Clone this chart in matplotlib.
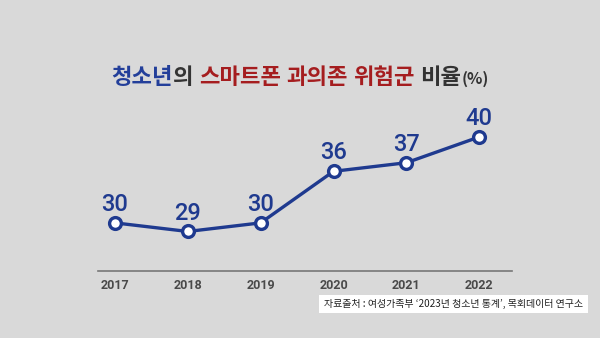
import matplotlib
matplotlib.use("Agg")
import matplotlib.pyplot as plt
from matplotlib.patches import Rectangle

years = ["2017", "2018", "2019", "2020", "2021", "2022"]
rates = [30, 29, 30, 36, 37, 40]

# (text, colour, size, gap before in px)
title_parts = [
    ("청소년", "#233f9a", 16, 0),
    ("의", "#333333", 16, 0),
    ("스마트폰", "#a51d1f", 16, 6),
    ("과의존", "#a51d1f", 16, 5),
    ("위험군", "#a51d1f", 16, 5),
    ("비율", "#333333", 16, 6),
    ("(%)", "#333333", 11.5, 0),
]
source_text = "자료출처 : 여성가족부 ‘2023년 청소년 통계’, 목회데이터 연구소"

BG = "#d9d9d9"
LINE = "#1f3a8f"
plt.rcParams["font.family"] = ["Noto Sans CJK KR", "DejaVu Sans"]

fig = plt.figure(figsize=(6, 3.38), dpi=100, facecolor=BG)
W, H = 600, 338

# plot area in pixel terms
left, right, top, bottom = 98, 512, 100, 271
ax = fig.add_axes([left / W, (H - bottom) / H, (right - left) / W, (bottom - top) / H])
ax.set_facecolor(BG)

xs = list(range(len(years)))
ax.plot(xs, rates, color=LINE, lw=2.4, marker="o", ms=8.5, mfc="white",
        mec=LINE, mew=2.4, zorder=3, clip_on=False)
for x, v in zip(xs, rates):
    ax.annotate(str(v), (x, v), xytext=(0, 5), textcoords="offset points",
                ha="center", va="bottom", fontsize=17, fontweight="medium",
                color=LINE, family=["Roboto", "DejaVu Sans"])

ax.set_xlim(-0.233, 5.45)
ax.set_ylim(24.4, 44.3)
ax.set_xticks(xs)
ax.set_xticklabels(years, fontsize=9, fontweight="bold", color="#4a4a4a",
                   family=["Roboto", "DejaVu Sans"])
ax.tick_params(axis="x", length=0, pad=6)
ax.set_yticks([])
for s in ["top", "right", "left"]:
    ax.spines[s].set_visible(False)
ax.spines["bottom"].set_color("#777777")
ax.spines["bottom"].set_linewidth(1.2)

# title built piece by piece so each part keeps its own colour
fig.canvas.draw()
renderer = fig.canvas.get_renderer()
texts = []
for s, c, fs, gap in title_parts:
    t = fig.text(0, 0, s, color=c, fontsize=fs, fontweight="bold",
                 va="baseline", ha="left")
    texts.append(t)
widths = [t.get_window_extent(renderer).width for t in texts]
gaps = [p[3] for p in title_parts]
total = sum(widths) + sum(gaps)
x0 = (W - total) / 2
base_y = (H - 84) / H
for t, w, g in zip(texts, widths, gaps):
    x0 += g
    t.set_position((x0 / W, base_y))
    x0 += w

# source note in a white box
fig.patches.append(Rectangle((319 / W, (H - 313) / H), 269 / W, 18 / H,
                             transform=fig.transFigure, facecolor="white",
                             edgecolor="none"))
fig.text(453 / W, (H - 304) / H, source_text, ha="center", va="center",
         fontsize=7.2, fontweight="medium", color="#222222")

fig.savefig("out.png", dpi=100, facecolor=BG)
